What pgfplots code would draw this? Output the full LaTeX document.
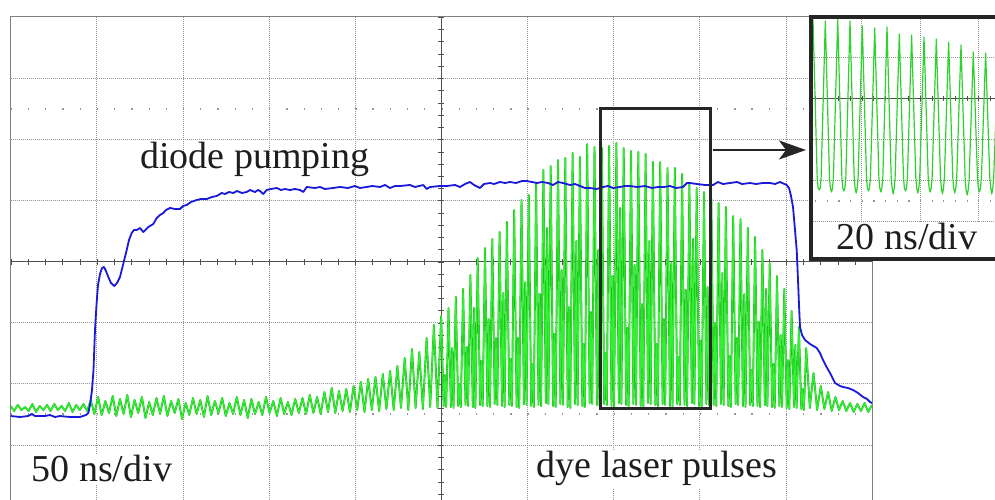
\documentclass[border=0pt]{standalone}
\usepackage{pgfplots}
\pgfplotsset{compat=1.18}
\usepackage{pgfplotstable}
\usetikzlibrary{arrows.meta}
\usepackage{fontspec}
\setmainfont{Liberation Serif}
\definecolor{trgreen}{RGB}{50,240,50}
\definecolor{trgreendark}{RGB}{30,185,30}
\definecolor{insgreen}{RGB}{45,210,45}
\definecolor{trblue}{RGB}{25,25,220}
\definecolor{gridc}{RGB}{150,150,150}
\definecolor{axc}{RGB}{80,80,80}
\definecolor{txt}{RGB}{30,30,30}

\pgfplotstableread[row sep=\\]{
x y\\
10.7 406\\ 14.1 411\\ 17.8 405\\ 21.4 410\\ 25.1 407\\ 28.7 411\\ 32.4 404\\ 36.0 412\\ 39.7 406\\ 43.3 410\\
47.0 405\\ 50.6 411\\ 54.3 404\\ 57.9 410\\ 61.6 406\\ 65.2 411\\ 68.9 403\\ 72.5 412\\ 76.2 405\\ 79.8 410\\
83.5 404\\ 87.1 411\\
90.8 400\\ 94.4 414\\ 98.1 397\\ 101.7 415\\ 105.4 401\\ 109.0 413\\ 112.7 396\\ 116.3 416\\ 120.0 399\\ 123.6 414\\
127.3 395\\ 130.9 417\\ 134.6 400\\ 138.2 413\\ 141.9 397\\ 145.5 418\\ 149.2 402\\ 152.8 415\\ 156.5 398\\ 160.1 414\\
163.8 396\\ 167.4 416\\ 171.1 401\\ 174.7 413\\ 178.4 399\\ 182.0 419\\ 185.7 403\\ 189.3 415\\ 193.0 398\\ 196.6 414\\
200.3 400\\ 203.9 417\\ 207.6 396\\ 211.2 415\\ 214.9 401\\ 218.5 413\\ 222.2 398\\ 225.8 416\\ 229.5 403\\ 233.1 414\\
236.8 397\\ 240.4 415\\ 244.1 400\\ 247.7 418\\ 251.4 399\\ 255.0 414\\ 258.7 402\\ 262.3 415\\ 266.0 397\\ 269.6 413\\
273.3 401\\ 276.9 416\\ 280.6 398\\ 284.2 414\\ 287.9 402\\ 291.5 415\\ 295.2 399\\ 298.8 413\\
302.5 398\\ 306.1 414\\ 309.8 395\\ 313.4 413\\ 317.1 397\\ 320.7 414\\ 324.4 392\\ 328.0 412\\ 331.7 388\\ 335.3 413\\
339.0 391\\ 342.6 411\\ 346.3 389\\ 349.9 412\\ 353.6 386\\ 357.2 410\\ 360.9 382\\ 364.5 412\\ 368.2 379\\ 371.8 410\\
375.5 377\\ 379.1 411\\ 382.8 374\\ 386.4 409\\ 390.1 371\\ 393.7 410\\ 397.4 366\\ 401.0 408\\ 404.7 358\\ 408.3 410\\
412.0 349\\ 415.6 408\\ 419.3 352\\ 422.9 409\\ 426.6 338\\ 430.2 407\\ 433.9 325\\ 437.5 408\\
441.2 316\\ 443.6 406\\ 444.9 375\\ 446.2 407\\
448.5 308\\ 450.9 407\\ 452.2 348\\ 453.5 408\\
455.8 297\\ 458.2 406\\ 459.5 384\\ 460.8 407\\
463.1 289\\ 465.5 405\\ 466.8 347\\ 468.1 406\\
470.4 275\\ 472.8 407\\ 474.1 308\\ 475.4 408\\
477.7 258\\ 480.1 405\\ 481.4 361\\ 482.7 406\\
485.0 248\\ 487.4 406\\ 488.7 319\\ 490.0 407\\
492.3 239\\ 494.7 404\\ 496.0 338\\ 497.3 405\\
499.6 232\\ 502.0 406\\ 503.3 293\\ 504.6 407\\
506.9 222\\ 509.3 405\\ 510.6 359\\ 511.9 406\\
514.2 210\\ 516.6 407\\ 517.9 338\\ 519.2 408\\
521.5 200\\ 523.9 404\\ 525.2 282\\ 526.5 405\\
528.8 195\\ 531.2 406\\ 532.5 364\\ 533.8 407\\
536.1 183\\ 538.5 405\\ 539.8 294\\ 541.1 406\\
543.4 170\\ 545.8 403\\ 547.1 228\\ 548.4 404\\
550.7 166\\ 553.1 406\\ 554.4 334\\ 555.7 407\\
558.0 160\\ 560.4 404\\ 561.7 270\\ 563.0 405\\
565.3 158\\ 567.7 407\\ 569.0 307\\ 570.3 408\\
572.6 153\\ 575.0 404\\ 576.3 241\\ 577.6 405\\
579.9 157\\ 582.3 406\\ 583.6 344\\ 584.9 407\\
587.2 144\\ 589.6 403\\ 590.9 312\\ 592.2 404\\
594.5 147\\ 596.9 405\\ 598.2 250\\ 599.5 406\\
601.8 148\\ 604.2 404\\ 605.5 353\\ 606.8 405\\
609.1 146\\ 611.5 406\\ 612.8 276\\ 614.1 407\\
616.4 143\\ 618.8 403\\ 620.1 208\\ 621.4 404\\
623.7 148\\ 626.1 405\\ 627.4 328\\ 628.7 406\\
631.0 151\\ 633.4 404\\ 634.7 265\\ 636.0 405\\
638.3 152\\ 640.7 406\\ 642.0 304\\ 643.3 407\\
645.6 154\\ 648.0 403\\ 649.3 241\\ 650.6 404\\
652.9 162\\ 655.3 405\\ 656.6 344\\ 657.9 406\\
660.2 162\\ 662.6 404\\ 663.9 319\\ 665.2 405\\
667.5 168\\ 669.9 406\\ 671.2 263\\ 672.5 407\\
674.8 168\\ 677.2 404\\ 678.5 357\\ 679.8 405\\
682.1 174\\ 684.5 405\\ 685.8 290\\ 687.1 406\\
689.4 184\\ 691.8 403\\ 693.1 239\\ 694.4 404\\
696.7 188\\ 699.1 406\\ 700.4 341\\ 701.7 407\\
704.0 192\\ 706.4 404\\ 707.7 287\\ 709.0 405\\
711.3 199\\ 713.7 405\\ 715.0 323\\ 716.3 406\\
718.6 203\\ 721.0 404\\ 722.3 273\\ 723.6 405\\
725.9 207\\ 728.3 406\\ 729.6 356\\ 730.9 407\\
733.2 216\\ 735.6 404\\ 736.9 338\\ 738.2 405\\
740.5 219\\ 742.9 406\\ 744.2 294\\ 745.5 407\\
747.8 228\\ 750.2 405\\ 751.5 370\\ 752.8 406\\
755.1 237\\ 757.5 406\\ 758.8 322\\ 760.1 407\\
762.4 250\\ 764.8 405\\ 766.1 289\\ 767.4 406\\
769.7 263\\ 772.1 407\\ 773.4 364\\ 774.7 408\\
777.0 276\\ 779.4 406\\ 780.7 335\\ 782.0 407\\
784.3 289\\ 786.7 408\\ 788.0 360\\ 789.3 409\\
791.6 311\\ 794.0 407\\ 795.3 345\\ 796.6 408\\
798.9 327\\ 801.3 409\\ 802.6 389\\ 803.9 410\\
806.2 348\\ 809.8 408\\ 813.5 373\\ 817.1 410\\ 820.8 386\\ 824.4 409\\ 828.1 392\\ 831.7 411\\ 835.4 397\\ 839.0 410\\
842.7 401\\ 846.3 411\\ 850.0 403\\ 853.6 412\\ 857.3 404\\ 860.9 411\\ 864.6 403\\ 868.2 412\\ 871.9 405\\
}\greentrace

\pgfplotstableread[row sep=\\]{
x y\\
10.7 416\\ 20 417\\ 28 416\\ 32 414\\ 35 416\\ 45 416\\ 50 415\\ 55 417\\ 60 416\\ 70 417\\ 80 417\\ 86 415\\
88.3 413\\ 90 405\\ 92 390\\ 93.5 370\\ 95 330\\ 96.5 305\\ 98 285\\ 100 274\\ 102 268\\ 104 267\\ 106 271\\
108.3 277\\ 111 283\\ 114.3 286\\ 117 283\\ 120 277\\ 123 265\\ 126.7 250\\ 129 240\\ 131.7 233\\ 134 230\\
136.7 230\\ 140 228\\ 143.3 232\\ 148.3 227\\ 153.3 224\\ 156.7 218\\ 160 215\\ 163.3 213\\ 166 210\\ 170 208\\
175 209\\ 180 209\\ 183 206\\ 186.7 205\\ 191 202\\ 196.7 200\\ 201 199\\ 206.7 199\\ 212 197\\ 216.7 196\\
221.7 193\\ 225 194\\ 229 192\\ 233.3 193\\ 237 191\\ 242 193\\ 246.7 192\\ 250 190\\ 255 192\\ 258 190\\
260 191\\ 263.3 194\\ 266.7 190\\ 271 189\\ 276.7 188\\ 281 190\\ 285 189\\ 290 190\\ 295 189\\ 300 190\\
303.3 192\\ 306.7 187\\ 315 188\\ 320 187\\ 325 189\\ 333 188\\ 340 187\\ 348 188\\ 355 186\\ 360 188\\
366.7 187\\ 372 186\\ 380 187\\ 385 185\\ 390 188\\ 395 186\\ 400 186\\ 410 185\\ 415 187\\ 423.3 185\\
426.7 189\\ 430 187\\ 440 186\\ 446.7 186\\ 455 185\\ 460 187\\ 465 184\\ 470 182\\ 474 185\\ 480 188\\
484 184\\ 490 183\\ 494 184\\ 500 182\\ 505 183\\ 510 182\\ 516 183\\ 522 181\\ 526.7 181\\ 532 182\\
537 183\\ 542 182\\ 548 183\\ 553 185\\ 558 182\\ 563 183\\ 570 185\\ 575 184\\ 580 186\\ 585 188\\
590 188\\ 596.7 189\\ 603 187\\ 608 186\\ 613 188\\ 620 187\\ 625 186\\ 630 186\\ 637 187\\ 645 186\\
652 188\\ 658 187\\ 664 187\\ 670 186\\ 676 188\\ 683 187\\ 687 183\\ 690 183\\ 697 184\\ 705 185\\
713 185\\ 718 182\\ 723 184\\ 730 183\\ 737 182\\ 742 184\\ 750 183\\ 756 184\\ 763 183\\ 770 183\\
775 184\\ 780 182\\ 786.7 185\\ 789 188\\ 791 196\\ 793 207\\ 795 230\\ 796.7 250\\ 798 280\\ 799 305\\
800 327\\ 802 335\\ 805 340\\ 810 344\\ 816.7 348\\ 820 353\\ 823 360\\ 826 366\\ 830 373\\ 833 379\\
835 383\\ 840 386\\ 843 387\\ 848 388\\ 853 390\\ 858 393\\ 863 397\\ 867 399\\ 870 402\\ 872 403\\
}\bluetrace

\pgfplotstableread[row sep=\\]{
x y\\
806.9 191\\ 807.9 188\\ 808.8 178\\
813.0 20\\ 817.2 178\\ 818.1 188\\ 819.2 190\\ 820.2 188\\ 821.1 178\\
825.3 21\\ 829.5 178\\ 830.4 188\\ 831.5 192\\ 832.5 188\\ 833.4 178\\
837.7 19\\ 841.9 178\\ 842.8 188\\ 843.9 191\\ 844.9 188\\ 845.8 178\\
850.0 21\\ 854.2 178\\ 855.1 188\\ 856.2 193\\ 857.2 188\\ 858.1 178\\
862.3 26\\ 866.5 178\\ 867.4 188\\ 868.5 191\\ 869.5 188\\ 870.4 178\\
874.7 28\\ 878.9 178\\ 879.8 188\\ 880.9 192\\ 881.9 188\\ 882.8 178\\
887.0 27\\ 891.2 178\\ 892.1 188\\ 893.2 194\\ 894.2 188\\ 895.1 178\\
899.3 34\\ 903.5 178\\ 904.4 188\\ 905.5 191\\ 906.5 188\\ 907.4 178\\
911.6 35\\ 915.8 178\\ 916.7 188\\ 917.8 193\\ 918.8 188\\ 919.7 178\\
924.0 37\\ 928.2 178\\ 929.1 188\\ 930.2 192\\ 931.2 188\\ 932.1 178\\
936.3 39\\ 940.5 178\\ 941.4 188\\ 942.5 194\\ 943.5 188\\ 944.4 178\\
948.6 42\\ 952.8 178\\ 953.7 188\\ 954.8 193\\ 955.8 188\\ 956.7 178\\
961.0 45\\ 965.2 180\\ 966.1 190\\ 967.2 195\\ 968.2 190\\ 969.1 180\\
973.3 52\\ 977.5 178\\ 978.4 188\\ 979.5 192\\ 980.5 188\\ 981.4 178\\
985.6 53\\ 989.8 178\\ 990.7 188\\ 991.8 194\\ 992.8 188\\ 993.7 178\\
998.0 56\\ 1002.2 178\\ 1003.1 188\\ 1004.2 193\\
}\insettrace

\begin{document}
\begin{tikzpicture}[x=1pt,y=1pt]
\useasboundingbox (0,0) rectangle (995,500);
\clip (0,0) rectangle (995,500);
% ---------------- main scope screen (pixel coordinates, y downwards)
\begin{axis}[
  at={(441.35pt,238.45pt)}, anchor=center,
  scale only axis, width=861.3pt, height=489.1pt,
  xmin=10.7, xmax=872, ymin=17, ymax=506.1, y dir=reverse,
  xtick={96.83,182.96,269.09,355.22,527.48,613.61,699.74,785.87},
  ytick={78.14,139.28,200.42,322.7,383.84,444.98},
  xticklabels={}, yticklabels={},
  major tick length=0pt,
  grid=major,
  major grid style={gridc, line width=0.7pt, dash pattern=on 1pt off 1pt},
  axis line style={gridc!85!black, line width=1pt},
  clip=true,
]
\draw[gridc, line width=1.3pt, dash pattern=on 1.3pt off 15.926pt] (axis cs:10.7,109) -- (axis cs:872,109);
\draw[gridc, line width=1.3pt, dash pattern=on 1.3pt off 15.926pt] (axis cs:10.7,414) -- (axis cs:872,414);
\draw[axc, line width=1pt] (axis cs:10.7,261.56) -- (axis cs:872,261.56);
\draw[axc, line width=6pt, dash pattern=on 1pt off 16.226pt] (axis cs:10.7,261.56) -- (axis cs:872,261.56);
\draw[axc, line width=1pt] (axis cs:441.35,17) -- (axis cs:441.35,506.1);
\draw[axc, line width=6pt, dash pattern=on 1pt off 11.228pt] (axis cs:441.35,17) -- (axis cs:441.35,506.1);
\addplot[trgreendark, line width=1.9pt, line join=round] table {\greentrace};
\addplot[trgreen, line width=1.1pt, line join=round] table {\greentrace};
\addplot[trblue, line width=1.8pt, line join=round] table {\bluetrace};
\draw[black!85, line width=3pt] (axis cs:600.7,108.3) rectangle (axis cs:710,408.3);
\end{axis}

\node[anchor=base west, inner sep=0pt, text=txt, font=\fontsize{38}{44}\selectfont] at (140,331.7) {diode pumping};
\node[anchor=base west, inner sep=1.5pt, fill=white, text=txt, font=\fontsize{38}{44}\selectfont] at (30,18.3) {50 ns/div};
\node[anchor=base west, inner sep=1.5pt, fill=white, text=txt, font=\fontsize{38}{44}\selectfont] at (535,22) {dye laser pulses};

\draw[black!85, line width=2pt, -{Stealth[length=27pt, width=19pt, inset=7pt]}] (713,350) -- (806,350);

% ---------------- inset (20 ns/div)
\fill[white] (810.7,241.4) rectangle (1012,483);
\begin{axis}[
  at={(910.35pt,362.2pt)}, anchor=center,
  scale only axis, width=199.3pt, height=241.6pt,
  xmin=810.7, xmax=1010, ymin=17, ymax=258.6, y dir=reverse,
  xtick={861.7,920,978.2},
  ytick={57,139.4,180.6,221.8},
  xticklabels={}, yticklabels={},
  major tick length=0pt,
  grid=major,
  major grid style={gridc, line width=0.7pt, dash pattern=on 1pt off 1pt},
  axis line style={draw=none},
  clip=true,
]
\draw[gridc, line width=1.2pt, dash pattern=on 1.2pt off 10.448pt] (axis cs:803.46,201) -- (axis cs:1010,201);
\draw[axc, line width=1pt] (axis cs:810.7,98.2) -- (axis cs:1010,98.2);
\draw[axc, line width=5pt, dash pattern=on 1pt off 10.648pt] (axis cs:803.46,98.2) -- (axis cs:1010,98.2);
\addplot[insgreen, line width=1.2pt, line join=round] table {\insettrace};
\end{axis}
\fill[white] (810.7,241.4) rectangle (1012,277.6);
\node[anchor=base west, inner sep=0pt, text=txt, font=\fontsize{38}{44}\selectfont] at (836.7,250) {20 ns/div};
\draw[black!85, line width=4pt] (810.7,241.4) rectangle (1014,483);
\end{tikzpicture}
\end{document}
